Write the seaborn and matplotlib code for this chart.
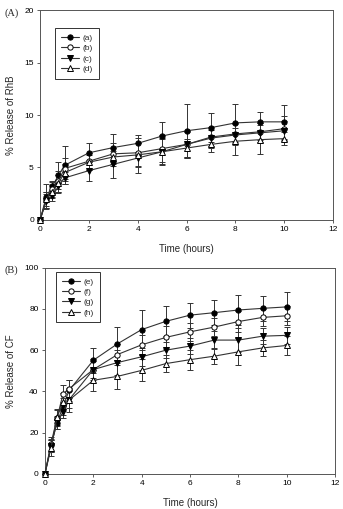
import numpy as np
import pandas as pd
import matplotlib
matplotlib.use("Agg")
import matplotlib.pyplot as plt
import seaborn as sns

# tiempos de muestreo (horas)
t = [0, 0.25, 0.5, 0.75, 1, 2, 3, 4, 5, 6, 7, 8, 9, 10]

# Panel A: liberacion de RhB
a = [0, 2.2, 3.2, 4.25, 5.2, 6.4, 6.9, 7.3, 8.0, 8.5, 8.8, 9.25, 9.35, 9.35]
a_err = [0, 1.2, 0.5, 1.3, 1.8, 0.9, 1.3, 0.8, 1.3, 2.6, 1.4, 1.8, 0.9, 1.6]
b = [0, 1.9, 2.9, 3.7, 4.9, 5.6, 6.3, 6.4, 6.8, 7.2, 7.9, 8.2, 8.4, 8.7]
b_err = [0, 0.8, 0.7, 1.0, 1.0, 0.8, 1.0, 1.4, 1.3, 1.3, 1.0, 1.0, 0.8, 1.2]
c = [0, 1.8, 2.3, 3.2, 4.0, 4.7, 5.3, 5.9, 6.5, 7.2, 7.8, 8.1, 8.3, 8.5]
c_err = [0, 0.7, 0.5, 0.6, 0.6, 1.0, 1.3, 1.4, 1.3, 1.2, 0.8, 1.0, 0.9, 0.9]
d = [0, 2.0, 2.7, 3.5, 4.5, 5.5, 6.0, 6.2, 6.5, 6.85, 7.2, 7.5, 7.65, 7.75]
d_err = [0, 0.7, 0.6, 0.8, 0.8, 0.7, 0.9, 1.1, 1.2, 0.9, 0.7, 1.3, 1.4, 0.6]

# Panel B: liberacion de CF
e = [0, 13.8, 24.8, 32.8, 40.5, 55.1, 63.1, 70.0, 74.0, 77.0, 78.2, 79.5, 80.3, 81.0]
e_err = [0, 3, 3, 4, 5, 6, 8, 9.7, 7.3, 6, 6.2, 7.3, 6.2, 7]
f = [0, 14.6, 27.0, 38.9, 41.3, 50.6, 57.9, 62.6, 66.2, 68.9, 71.2, 73.9, 75.9, 76.7]
f_err = [0, 3.5, 4, 4, 4, 4, 5, 5, 5.5, 4.5, 4.5, 5, 4.2, 4.5]
g = [0, 13.5, 25.0, 30.0, 36.0, 50.6, 54.0, 56.8, 60.0, 62.0, 64.9, 64.9, 66.8, 67.2]
g_err = [0, 3, 3, 3, 4, 5, 6, 4.5, 4, 4, 4.5, 6, 4, 4]
h = [0, 12.5, 27.5, 34.8, 35.8, 45.4, 47.3, 50.2, 53.5, 55.4, 57.1, 59.2, 61.1, 62.3]
h_err = [0, 4, 4, 4.5, 6, 5, 6.3, 5.3, 4, 4.8, 4, 6.5, 4, 4.4]

sns.set_style("ticks")
plt.rcParams['font.family'] = ['Liberation Sans', 'DejaVu Sans']

estilos = [("o", "black"), ("o", "white"), ("v", "black"), ("^", "white")]

fig = plt.figure(figsize=(3.43, 5.09), dpi=100)
axA = fig.add_axes([0.117, 0.568, 0.854, 0.412])
axB = fig.add_axes([0.131, 0.069, 0.846, 0.405])


def panel(ax, series, errs, labels, ylim, yticks, ylabel, legpos):
    for y, err, lab, (mk, fc) in zip(series, errs, labels, estilos):
        ax.errorbar(t, y, yerr=err, fmt="none", ecolor="#333333",
                    elinewidth=0.7, capsize=2.2, capthick=0.7, zorder=2)
        df = pd.DataFrame({"t": t, "y": y})
        sns.lineplot(data=df, x="t", y="y", ax=ax, color="#333333",
                     linewidth=0.8, marker=mk, markersize=3.8,
                     markerfacecolor=fc, markeredgecolor="black",
                     markeredgewidth=0.7, label=lab, clip_on=False, zorder=3)
    ax.set_xlim(0, 12)
    ax.set_ylim(*ylim)
    ax.set_xticks(range(0, 13, 2))
    ax.set_yticks(yticks)
    ax.tick_params(labelsize=6, length=2.5, width=0.6, colors="#444444",
                   labelcolor="black", pad=2)
    for s in ax.spines.values():
        s.set_visible(True)
        s.set_linewidth(0.7)
        s.set_color("#555555")
    ax.set_xlabel("Time (hours)", fontsize=7, labelpad=8)
    ax.set_ylabel(ylabel, fontsize=7, labelpad=6)
    leg = ax.legend(loc="upper left", bbox_to_anchor=legpos, borderaxespad=0,
                    fontsize=6, frameon=True, fancybox=False,
                    handlelength=2.2, borderpad=0.7, labelspacing=0.3,
                    handletextpad=0.4)
    leg.get_frame().set_edgecolor("black")
    leg.get_frame().set_linewidth(0.7)


panel(axA, [a, b, c, d], [a_err, b_err, c_err, d_err],
      ["(a)", "(b)", "(c)", "(d)"], (0, 20), [0, 5, 10, 15, 20],
      "% Release of RhB", (0.051, 0.914))
panel(axB, [e, f, g, h], [e_err, f_err, g_err, h_err],
      ["(e)", "(f)", "(g)", "(h)"], (0, 100), [0, 20, 40, 60, 80, 100],
      "% Release of CF", (0.038, 0.98))

fig.text(12 / 343, 1 - 13 / 509, "(A)", fontsize=7.5,
         family="Liberation Serif", ha="center", va="center")
fig.text(11 / 343, 1 - 270 / 509, "(B)", fontsize=7.5,
         family="Liberation Serif", ha="center", va="center")

fig.savefig("out.png", dpi=100)
